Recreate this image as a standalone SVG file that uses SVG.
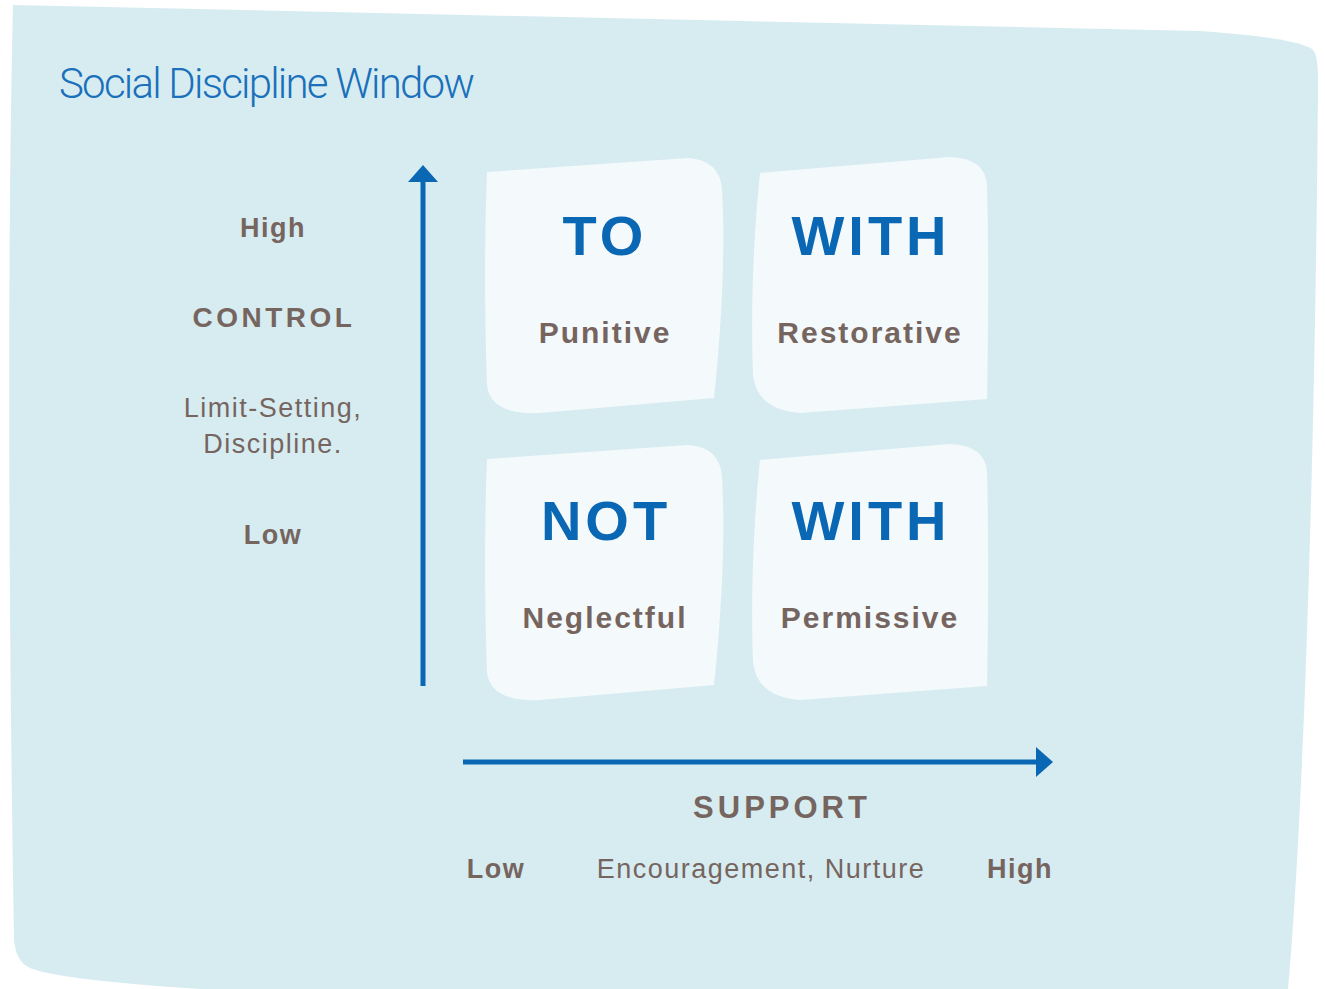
<svg xmlns="http://www.w3.org/2000/svg" width="1325" height="989" viewBox="0 0 1325 989">
  <style>
    .bg { fill: #d7ecf1; }
    .card { fill: #f4f9fc; }
    .big { font-family: "Liberation Sans", Arial, sans-serif; font-weight: bold; font-size: 56px; fill: #0a67b4; text-anchor: middle; letter-spacing: 4px; }
    .sub { font-family: "Liberation Sans", Arial, sans-serif; font-weight: bold; font-size: 30px; fill: #76655f; text-anchor: middle; letter-spacing: 2px; }
    .lbl { font-family: "Liberation Sans", Arial, sans-serif; font-weight: bold; font-size: 27px; fill: #76655f; text-anchor: middle; letter-spacing: 1.5px; }
    .axis { font-family: "Liberation Sans", Arial, sans-serif; font-weight: bold; font-size: 28px; fill: #76655f; text-anchor: middle; letter-spacing: 3.5px; }
    .axis2 { font-family: "Liberation Sans", Arial, sans-serif; font-weight: bold; font-size: 31px; fill: #76655f; text-anchor: middle; letter-spacing: 4px; }
    .desc { font-family: "Liberation Sans", Arial, sans-serif; font-size: 27px; fill: #76655f; text-anchor: middle; letter-spacing: 1.5px; }
    .title { font-family: Roboto, "Liberation Sans", sans-serif; font-weight: 300; font-size: 42px; fill: #1a70ba; }
    .line { stroke: #0a67b4; stroke-width: 5; fill: none; }
    .head { fill: #0a67b4; }
  </style>
  <defs>
    <path id="cardL" d="M 487,172 L 688,158 Q 720,160 722,190 C 726,260 720,340 714,398 L 540,413 Q 490,415 487,385 C 484,300 485,220 487,172 Z"/>
    <path id="cardR" d="M 760,173 L 950,157 Q 985,158 987,185 C 989,260 988,340 987,399 L 800,413 Q 757,410 753,375 C 750,300 755,220 760,173 Z"/>
  </defs>

  <!-- backdrop panel -->
  <path class="bg" d="M 13,5 L 1200,31 Q 1300,38 1313,50 Q 1318,55 1318,80 C 1316,400 1305,800 1288,989 L 200,989 Q 60,980 30,968 Q 16,962 14,940 C 10,700 6,300 13,5 Z"/>

  <text class="title" x="59" y="98" textLength="416">Social Discipline Window</text>

  <!-- quadrants -->
  <g id="node-to">
    <use href="#cardL" class="card"/>
    <text class="big" x="605" y="255">TO</text>
    <text class="sub" x="605" y="343">Punitive</text>
  </g>
  <g id="node-with-restorative">
    <use href="#cardR" class="card"/>
    <text class="big" x="871" y="255">WITH</text>
    <text class="sub" x="870" y="343">Restorative</text>
  </g>
  <g id="node-not">
    <use href="#cardL" class="card" transform="translate(0,287)"/>
    <text class="big" x="606" y="540">NOT</text>
    <text class="sub" x="605" y="628">Neglectful</text>
  </g>
  <g id="node-with-permissive">
    <use href="#cardR" class="card" transform="translate(0,287)"/>
    <text class="big" x="871" y="540">WITH</text>
    <text class="sub" x="870" y="628">Permissive</text>
  </g>

  <!-- axes -->
  <g id="connectors">
    <line class="line" x1="423" y1="686" x2="423" y2="180"/>
    <polygon class="head" points="423,165 438,182 408,182"/>
    <line class="line" x1="463" y1="762" x2="1038" y2="762"/>
    <polygon class="head" points="1053,762 1036,747 1036,777"/>
  </g>

  <!-- control axis labels -->
  <g id="control-labels">
    <text class="lbl" x="273" y="237">High</text>
    <text class="axis" x="274" y="327">CONTROL</text>
    <text class="desc" x="273" y="417">Limit-Setting,</text>
    <text class="desc" x="273" y="453">Discipline.</text>
    <text class="lbl" x="273" y="544">Low</text>
  </g>

  <!-- support axis labels -->
  <g id="support-labels">
    <text class="axis2" x="782" y="818">SUPPORT</text>
    <text class="lbl" x="496" y="878">Low</text>
    <text class="desc" x="761" y="878">Encouragement, Nurture</text>
    <text class="lbl" x="1020" y="878">High</text>
  </g>
</svg>
